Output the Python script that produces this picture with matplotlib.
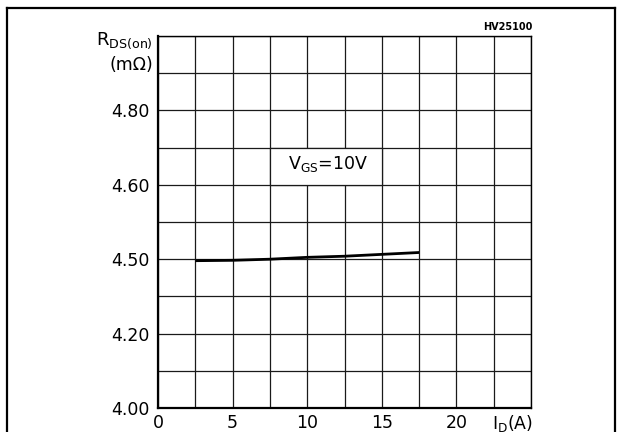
import numpy as np
import matplotlib
matplotlib.use("Agg")
import matplotlib.pyplot as plt
from matplotlib.patches import Rectangle
from matplotlib.lines import Line2D

plt.rcParams['font.family'] = ['DejaVu Sans']
plt.rcParams['mathtext.default'] = 'regular'

# data
id_a = [2.5, 5.0, 7.5, 10.0, 12.5, 15.0, 17.5]
rds_on = [4.396, 4.397, 4.400, 4.405, 4.408, 4.413, 4.418]

xticks = [0, 5, 10, 15, 20]
xtick_labels = ['0', '5', '10', '15', '20']
yticks = [4.0, 4.2, 4.4, 4.6, 4.8]
ytick_labels = ['4.00', '4.20', '4.50', '4.60', '4.80']

fig = plt.figure(figsize=(6.23, 4.32), dpi=100)
ax = fig.add_axes([158/623, 1 - 408/432, 373/623, 372/432])

ax.set_xlim(0, 25)
ax.set_ylim(4.0, 5.0)
ax.set_xticks(xticks)
ax.set_xticklabels(xtick_labels)
ax.set_xticks(np.arange(0, 25.1, 2.5), minor=True)
ax.set_yticks(yticks)
ax.set_yticklabels(ytick_labels)
ax.set_yticks(np.arange(4.0, 5.01, 0.1), minor=True)
ax.tick_params(which='both', length=0, labelsize=12.5)
ax.tick_params(axis='y', pad=6)
ax.tick_params(axis='x', pad=4)
ax.grid(which='both', color='#1a1a1a', lw=0.9)

for s in ['left', 'bottom']:
    ax.spines[s].set_linewidth(1.6)
for s in ['top', 'right']:
    ax.spines[s].set_linewidth(1.0)

ax.plot(id_a, rds_on, color='black', lw=2.0, solid_capstyle='butt', zorder=3)

# white box behind V_GS label
ax.add_patch(Rectangle((7.5, 4.6), 7.5, 0.1, facecolor='white',
                       edgecolor='#1a1a1a', lw=0.9, zorder=2))
ax.text(11.4, 4.655, r'V$_{GS}$=10V', ha='center', va='center',
        fontsize=12.5, zorder=4)

fig.text(153/623, 1 - 45/432, r'R$_{DS(on)}$', ha='right', va='baseline',
         fontsize=13)
fig.text(153/623, 1 - 65/432, '(m\u03a9)', ha='right', va='center',
         fontsize=12.5)
fig.text(532/623, 1 - 27/432, 'HV25100', ha='right', va='center',
         fontsize=7, fontweight='bold')
fig.text(533/623, 1 - 423/432, r'I$_D$(A)', ha='right', va='center',
         fontsize=12.5)

# outer frame
fig.add_artist(Line2D([7/623, 7/623], [0, 1 - 8/432], transform=fig.transFigure,
                      color='black', lw=1.6))
fig.add_artist(Line2D([7/623, 615/623], [1 - 8/432, 1 - 8/432],
                      transform=fig.transFigure, color='black', lw=1.6))
fig.add_artist(Line2D([615/623, 615/623], [0, 1 - 8/432], transform=fig.transFigure,
                      color='black', lw=1.6))

fig.savefig('out.png', dpi=100)
